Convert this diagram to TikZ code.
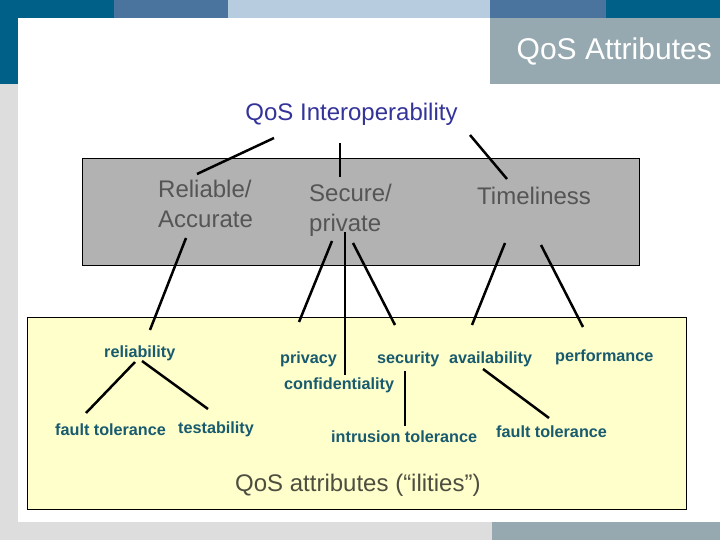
\documentclass[tikz,border=0pt]{standalone}
\usepackage{fontspec}
\setmainfont{Liberation Sans}
\definecolor{tealdark}{RGB}{0,96,136}
\definecolor{midblue}{RGB}{74,116,158}
\definecolor{lightblue}{RGB}{184,204,224}
\definecolor{titlegray}{RGB}{150,168,176}
\definecolor{lightgray}{RGB}{221,221,221}
\definecolor{boxgray}{RGB}{178,178,178}
\definecolor{paleyellow}{RGB}{255,255,204}
\definecolor{tealtext}{RGB}{24,90,110}
\definecolor{graytext}{RGB}{85,85,85}
\definecolor{interblue}{RGB}{51,51,153}
\definecolor{ilitext}{RGB}{77,77,64}
\tikzset{
  conn/.style={line width=2.5pt, black},
  bigtext/.style={inner sep=0pt, anchor=base west, font=\fontsize{24}{29}\selectfont, text=graytext, align=left},
  leaf/.style={inner sep=0pt, anchor=base west, font=\fontsize{16.2}{20}\selectfont\bfseries, text=tealtext}
}
\begin{document}
\begin{tikzpicture}[x=1pt,y=-1pt]
\useasboundingbox (0,0) rectangle (720,540);
% background frame
\fill[white] (0,0) rectangle (720,540);
\fill[tealdark] (0,0) rectangle (114,18);
\fill[midblue] (114,0) rectangle (228,18);
\fill[lightblue] (228,0) rectangle (490,18);
\fill[midblue] (490,0) rectangle (606,18);
\fill[tealdark] (606,0) rectangle (720,18);
\fill[tealdark] (0,18) rectangle (18,84);
\fill[lightgray] (0,84) rectangle (18,540);
\fill[lightgray] (18,522) rectangle (492,540);
\fill[titlegray] (492,522) rectangle (720,540);
\fill[titlegray] (490,18) rectangle (720,84);
\node[inner sep=0pt, anchor=base east, text=white, font=\fontsize{30}{36}\selectfont] (title) at (712,60) {QoS Attributes};
% boxes
\draw[fill=boxgray, line width=1pt] (82,159) rectangle (639,265);
\draw[fill=paleyellow, line width=1pt] (27,317) rectangle (686,509);
% top label
\node[inner sep=0pt, anchor=base, text=interblue, font=\fontsize{24}{29}\selectfont] (interop) at (351.5,121) {QoS Interoperability};
% group labels (base = last line)
\node[bigtext] (rel) at (158,227) {Reliable/\\Accurate};
\node[bigtext] (sec) at (309,231) {Secure/\\private};
\node[bigtext] (time) at (477,205) {Timeliness};
% leaves
\node[leaf] (reliab) at (104,357) {reliability};
\node[leaf] (ftone) at (55,435) {fault tolerance};
\node[leaf] (test) at (178,433) {testability};
\node[leaf] (priv) at (280,363) {privacy};
\node[leaf] (conf) at (284,389) {confidentiality};
\node[leaf] (secu) at (377,363) {security};
\node[leaf] (avail) at (449,363) {availability};
\node[leaf] (perf) at (555,361) {performance};
\node[leaf] (intr) at (331,442) {intrusion tolerance};
\node[leaf] (fttwo) at (496,437) {fault tolerance};
\node[inner sep=0pt, anchor=base west, text=ilitext, font=\fontsize{24}{29}\selectfont] (ilities) at (235,491) {QoS attributes (“ilities”)};
% connector end points
\coordinate (iA) at (274,138); \coordinate (rA) at (197,174);
\coordinate (iB) at (340,143); \coordinate (sA) at (340,177);
\coordinate (iC) at (470,135); \coordinate (tA) at (507,179);
\coordinate (rB) at (186,238); \coordinate (reA) at (150,330);
\coordinate (sB) at (332,241); \coordinate (pA) at (299,322);
\coordinate (sC) at (345,232); \coordinate (cA) at (345,375);
\coordinate (sD) at (353,243); \coordinate (scA) at (395,325);
\coordinate (tB) at (505,243); \coordinate (aA) at (472,325);
\coordinate (tC) at (541,245); \coordinate (peA) at (583,327);
\coordinate (reB) at (135,362); \coordinate (fA) at (86,413);
\coordinate (reC) at (142,361); \coordinate (teA) at (208,409);
\coordinate (scB) at (405,371); \coordinate (inA) at (405,426);
\coordinate (aB) at (483,369); \coordinate (fB) at (549,418);
% connectors
\draw[conn] (iA) -- (rA);
\draw[conn] (iB) -- (sA);
\draw[conn] (iC) -- (tA);
\draw[conn] (rB) -- (reA);
\draw[conn] (sB) -- (pA);
\draw[conn] (sC) -- (cA);
\draw[conn] (sD) -- (scA);
\draw[conn] (tB) -- (aA);
\draw[conn] (tC) -- (peA);
\draw[conn] (reB) -- (fA);
\draw[conn] (reC) -- (teA);
\draw[conn] (scB) -- (inA);
\draw[conn] (aB) -- (fB);
\end{tikzpicture}
\end{document}
